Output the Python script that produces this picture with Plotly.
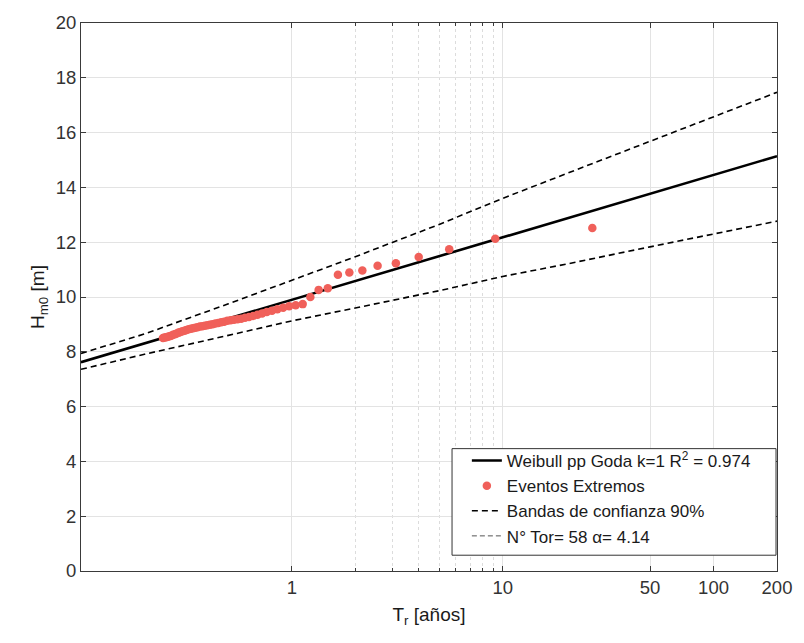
import plotly.graph_objects as go

# Return period of each extreme event [years] (Goda plotting position, N=58)
tr_events = [26.62, 9.222, 5.577, 3.997, 3.114, 2.551, 2.160, 1.874, 1.654, 1.481,
             1.340, 1.224, 1.126, 1.043, 0.971, 0.909, 0.854, 0.805, 0.761, 0.7225,
             0.687, 0.6554, 0.6263, 0.5997, 0.5752, 0.5527, 0.5318, 0.5125, 0.4946, 0.4778,
             0.4622, 0.4476, 0.4339, 0.4209, 0.4087, 0.3973, 0.3864, 0.3761, 0.3663, 0.3570,
             0.3482, 0.3398, 0.3317, 0.3240, 0.3167, 0.3097, 0.3029, 0.2965, 0.2903, 0.2844,
             0.2787, 0.2733, 0.2681, 0.2630, 0.2582, 0.2536, 0.2491, 0.2448]
# Significant wave height of each event [m]
hm0_events = [12.52, 12.13, 11.74, 11.46, 11.23, 11.14, 10.97, 10.89, 10.81, 10.32,
              10.26, 10.00, 9.74, 9.70, 9.66, 9.61, 9.55, 9.50, 9.45, 9.40,
              9.35, 9.31, 9.27, 9.24, 9.21, 9.19, 9.17, 9.15, 9.13, 9.10,
              9.08, 9.05, 9.03, 9.01, 8.99, 8.97, 8.95, 8.93, 8.92, 8.90,
              8.88, 8.86, 8.84, 8.82, 8.80, 8.77, 8.75, 8.72, 8.70, 8.67,
              8.64, 8.62, 8.59, 8.57, 8.55, 8.53, 8.52, 8.50]

# Fitted Weibull (k=1) return-level curve
tr_fit = [0.1, 1, 10, 100, 200]
hm0_fit = [7.62, 9.90, 12.18, 14.46, 15.14]

# 90% confidence bands
tr_band = [0.1, 0.2, 0.5, 1, 2, 5, 10, 20, 50, 100, 200]
hm0_upper = [7.94, 8.65, 9.75, 10.60, 11.47, 12.65, 13.60, 14.50, 15.68, 16.57, 17.47]
hm0_lower = [7.36, 7.91, 8.60, 9.13, 9.60, 10.23, 10.75, 11.20, 11.83, 12.30, 12.77]

x_tickvals = [1, 10, 50, 100, 200]
x_ticktext = ["1", "10", "50", "100", "200"]
x_minor = [2, 3, 4, 5, 6, 7, 8, 9]

FONT = "Liberation Sans, Arial, sans-serif"
AXIS = "#3a3a3a"

fig = go.Figure()

fig.add_trace(go.Scatter(
    x=tr_fit, y=hm0_fit, mode="lines",
    line=dict(color="black", width=2.6),
    name="Weibull pp Goda k=1 R<sup>2</sup> = 0.974",
))
fig.add_trace(go.Scatter(
    x=tr_events, y=hm0_events, mode="markers",
    marker=dict(color="#F0605A", size=8.5, line=dict(width=0)),
    name="Eventos Extremos",
))
fig.add_trace(go.Scatter(
    x=tr_band, y=hm0_upper, mode="lines",
    line=dict(color="black", width=1.6, dash="6px,4px"),
    name="Bandas de confianza 90%",
))
fig.add_trace(go.Scatter(
    x=tr_band, y=hm0_lower, mode="lines",
    line=dict(color="black", width=1.6, dash="6px,4px"),
    showlegend=False, name="lower",
))
fig.add_trace(go.Scatter(
    x=[None], y=[None], mode="lines",
    line=dict(color="#555555", width=1, dash="5px,3px"),
    name="N° Tor= 58 α= 4.14",
))

# Legend frame (white box with border) drawn under the legend entries
fig.add_shape(
    type="rect", xref="paper", yref="paper",
    x0=0.5331, x1=0.9986, y0=0.0288, y1=0.2233,
    fillcolor="white", line=dict(color="#333333", width=1), layer="above",
)

fig.update_layout(
    width=804, height=643,
    margin=dict(l=80.5, r=21, t=15.7, b=72),
    paper_bgcolor="white", plot_bgcolor="white",
    font=dict(family=FONT, color="#333333"),
    showlegend=True,
    legend=dict(
        x=0.5544, y=0.031, xanchor="left", yanchor="bottom",
        bgcolor="rgba(0,0,0,0)", borderwidth=0,
        font=dict(family=FONT, size=17, color="#1a1a1a"),
        tracegroupgap=0, itemwidth=30,
    ),
)

fig.update_xaxes(
    type="log", range=[-1, 2.30103],
    tickmode="array", tickvals=x_tickvals, ticktext=x_ticktext,
    ticks="inside", ticklen=5, tickcolor=AXIS, tickwidth=1,
    showline=True, linecolor=AXIS, linewidth=1, mirror="ticks",
    showgrid=True, gridcolor="#e3e3e3", gridwidth=1,
    zeroline=False,
    minor=dict(tickmode="array", tickvals=x_minor, ticks="inside", ticklen=3,
               tickcolor=AXIS, showgrid=True, gridcolor="#dcdcdc", griddash="dot"),
    tickfont=dict(family=FONT, size=18.5, color="#333333"),
    title=dict(text="T<sub>r</sub> [años]", font=dict(family=FONT, size=19, color="#1a1a1a"),
               standoff=10),
)
fig.update_yaxes(
    range=[0, 20], tickmode="linear", tick0=0, dtick=2,
    ticks="inside", ticklen=5, tickcolor=AXIS, tickwidth=1,
    showline=True, linecolor=AXIS, linewidth=1, mirror="ticks",
    showgrid=True, gridcolor="#e3e3e3", gridwidth=1,
    zeroline=False,
    tickfont=dict(family=FONT, size=18.5, color="#333333"),
    title=dict(text="H<sub>m0</sub> [m]", font=dict(family=FONT, size=19, color="#1a1a1a"),
               standoff=6),
)

fig.write_html("out.html")
